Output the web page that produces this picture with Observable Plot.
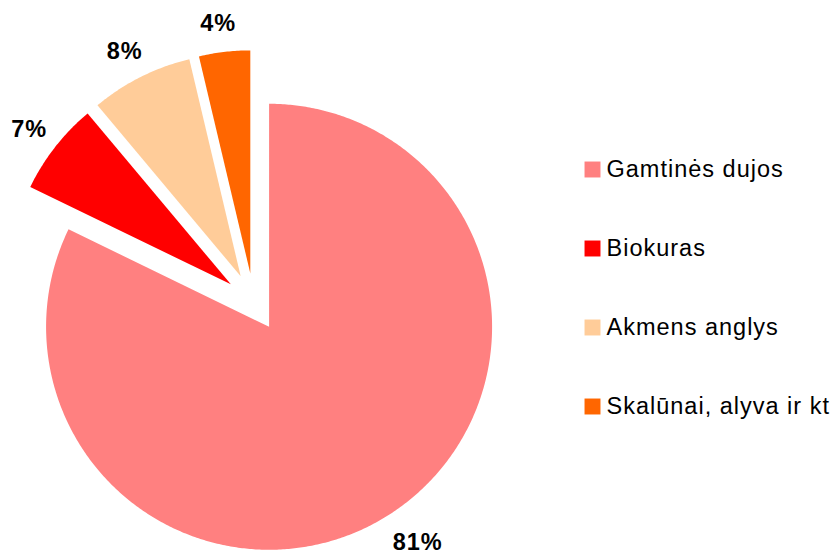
<!DOCTYPE html>
<html><head><meta charset="utf-8">
<script src="https://cdn.jsdelivr.net/npm/d3@7"></script>
<script src="https://cdn.jsdelivr.net/npm/@observablehq/plot@0.6"></script>
<style>body{margin:0;background:#fff}#chart{width:838px;height:557px}</style>
</head><body><div id="chart"></div>
<script>
// ---- data ----
const categories = ["Gamtinės dujos", "Biokuras", "Akmens anglys", "Skalūnai, alyva ir kt"];
const shares = [82.2, 6.7, 7.4, 3.7];
const labels = ["81%", "7%", "8%", "4%"];
const colors = ["#ff8080", "#ff0000", "#ffcc99", "#ff6600"];

// ---- layout ----
const W = 838, H = 557;
const CX = 253.2, CY = 301.7, R = 223, EXPLODE = 29;
const xDomain = [-CX / R, (W - CX) / R];
const yDomain = [-(H - CY) / R, CY / R];
const pxToX = px => (px - CX) / R;
const pxToY = py => (CY - py) / R;
const yMinLabel = pxToY(H - 15);

const data = categories.map((c, i) => ({category: c, share: shares[i], label: labels[i]}));
const arcs = d3.pie().sort(null).value(d => d.share)(data);

const slicePts = [];
const labelPts = [];
arcs.forEach(a => {
  const mid = (a.startAngle + a.endAngle) / 2;
  const ox = (EXPLODE / R) * Math.sin(mid), oy = (EXPLODE / R) * Math.cos(mid);
  const cat = a.data.category;
  slicePts.push({category: cat, x: ox, y: oy});
  const n = Math.max(2, Math.ceil((a.endAngle - a.startAngle) / (Math.PI / 360)));
  for (let k = 0; k <= n; k++) {
    const t = a.startAngle + (a.endAngle - a.startAngle) * k / n;
    slicePts.push({category: cat, x: ox + Math.sin(t), y: oy + Math.cos(t)});
  }
  slicePts.push({category: cat, x: ox, y: oy});
  const lr = (a.data.share > 50 ? R + 44 : R + 29) / R;
  let lx = ox + lr * Math.sin(mid), ly = oy + lr * Math.cos(mid);
  if (ly < yMinLabel) { ly = yMinLabel; lx += 10 / R; }
  labelPts.push({label: a.data.label, x: lx, y: ly});
});

const legend = categories.map((c, i) => ({category: c, x: pxToX(592), tx: pxToX(606), y: pxToY(169 + 79 * i)}));

const chart = Plot.plot({
  width: W, height: H,
  margin: 0,
  x: {domain: xDomain, axis: null},
  y: {domain: yDomain, axis: null},
  color: {domain: categories, range: colors},
  style: {fontFamily: "'Liberation Sans', Arial, sans-serif", background: "#fff"},
  marks: [
    Plot.line(slicePts, {x: "x", y: "y", z: "category", fill: "category", stroke: null, curve: "linear"}),
    Plot.text(labelPts, {x: "x", y: "y", dx: -3, text: "label", fontSize: 23.5, fontWeight: "bold", fill: "#000", textAnchor: "middle", lineAnchor: "middle"}),
    Plot.dot(legend, {x: "x", y: "y", fill: "category", symbol: "square", r: 9, stroke: null}),
    Plot.text(legend, {x: "tx", y: "y", text: "category", fontSize: 23.5, fill: "#000", textAnchor: "start", lineAnchor: "middle"})
  ]
});
chart.style.letterSpacing = "1px";
document.getElementById("chart").append(chart);
</script>
</body></html>
